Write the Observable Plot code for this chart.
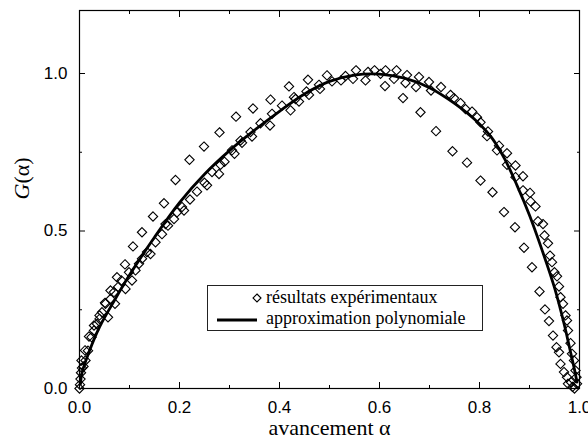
<!DOCTYPE html>
<html><head><meta charset="utf-8">
<script src="https://cdn.jsdelivr.net/npm/d3@7"></script>
<script src="https://cdn.jsdelivr.net/npm/@observablehq/plot@0.6"></script>
<style>
body{margin:0;background:#fff;}
#chart{position:relative;width:588px;height:439px;}
#legend{position:absolute;left:207px;top:285px;}
</style></head><body><div id="chart"></div>
<script>
// Run A (sparse run, peak shifted left)
const runAx = [0.004,0.011,0.019,0.029,0.04,0.051,0.062,0.075,0.091,0.107,0.125,0.147,0.169,0.192,0.22,0.249,0.28,0.313,0.347,0.382,0.419,0.457,0.495,0.553,0.611,0.647,0.682,0.713,0.746,0.775,0.802,0.826,0.849,0.871,0.889,0.905,0.92,0.931,0.939,0.947,0.954,0.959];
const runAy = [0.089,0.121,0.165,0.2,0.232,0.272,0.311,0.353,0.394,0.451,0.496,0.546,0.588,0.662,0.726,0.768,0.813,0.863,0.889,0.917,0.959,0.98,0.994,1.01,0.96,0.922,0.877,0.817,0.753,0.717,0.66,0.623,0.56,0.512,0.447,0.385,0.308,0.251,0.214,0.168,0.131,0.115];
// Run B (main cluster, left part)
const runBx = [0,0.001,0.002,0.003,0.005,0.008,0.012,0.017,0.024,0.029,0.035,0.04,0.045,0.052,0.057,0.062,0.069,0.071,0.077,0.084,0.092,0.099,0.105,0.112,0.119,0.125,0.135,0.142,0.152,0.165,0.172,0.177,0.189,0.195,0.205,0.209,0.221,0.235,0.25,0.255,0.265,0.279,0.282,0.29,0.305,0.31,0.322,0.325,0.342,0.345,0.362,0.381,0.385,0.405,0.422,0.432];
const runBy = [0,0.012,0.03,0.05,0.065,0.07,0.089,0.12,0.163,0.184,0.205,0.221,0.242,0.269,0.226,0.284,0.306,0.269,0.322,0.343,0.316,0.369,0.343,0.375,0.396,0.412,0.433,0.427,0.464,0.49,0.522,0.517,0.538,0.559,0.576,0.565,0.6,0.625,0.653,0.645,0.687,0.681,0.71,0.72,0.756,0.745,0.787,0.78,0.814,0.8,0.842,0.835,0.872,0.898,0.883,0.919];
// Run C (main cluster, right part)
const runCx = [0.429,0.439,0.454,0.459,0.479,0.481,0.505,0.523,0.532,0.547,0.572,0.577,0.59,0.602,0.612,0.629,0.634,0.652,0.655,0.673,0.679,0.699,0.703,0.723,0.742,0.749,0.762,0.772,0.785,0.795,0.802,0.815,0.817,0.835,0.839,0.855,0.855,0.872,0.872,0.887,0.887,0.901,0.902,0.912,0.917,0.927,0.93,0.937,0.941,0.945,0.95,0.955,0.959,0.962,0.967,0.972,0.975,0.977,0.982,0.985,0.989,0.992,0.994,0.995,0.962,0.969,0.975,0.977,0.983,0.99,0.986];
const runCy = [0.925,0.911,0.943,0.932,0.964,0.951,0.975,0.978,0.992,0.983,0.978,1.005,1.01,0.999,1.01,0.983,1.01,0.97,0.995,0.957,0.989,0.973,0.946,0.957,0.932,0.922,0.906,0.887,0.879,0.861,0.845,0.801,0.816,0.756,0.771,0.747,0.71,0.708,0.671,0.674,0.629,0.621,0.594,0.578,0.531,0.522,0.486,0.461,0.422,0.401,0.369,0.356,0.324,0.29,0.269,0.232,0.216,0.184,0.144,0.11,0.089,0.057,0.036,0.015,0.078,0.052,0.036,0.015,0.02,0,0.005];
// Polynomial approximation
const fitX = [0.002,0.005,0.02,0.04,0.07,0.1,0.15,0.2,0.25,0.3,0.35,0.4,0.45,0.5,0.55,0.6,0.65,0.7,0.75,0.8,0.825,0.85,0.875,0.9,0.925,0.95,0.97,0.98,0.99,0.995];
const fitY = [0.015,0.05,0.12,0.195,0.28,0.36,0.48,0.59,0.68,0.755,0.82,0.88,0.935,0.975,0.995,0.998,0.985,0.955,0.905,0.84,0.795,0.73,0.645,0.55,0.44,0.32,0.2,0.13,0.06,0.02];

const xMajor = [0,0.2,0.4,0.6,0.8,1.0];
const xMinor = [0.1,0.3,0.5,0.7,0.9];
const yMajor = [0,0.5,1.0];
const yMinor = [0.25,0.75];
const xLabel = "avancement α";
const yLabel = "G(α)";
const legendLabels = ["résultats expérimentaux","approximation polynomiale"];

const toPts = (xs, ys) => xs.map((x,i) => ({x, y: ys[i]}));
const points = [...toPts(runAx,runAy), ...toPts(runBx,runBy), ...toPts(runCx,runCy)];
const fit = toPts(fitX, fitY);
const serif = "'Liberation Serif','Times New Roman',serif";
const sans = "'Liberation Sans',Arial,Helvetica,sans-serif";
const fmt = d3.format(".1f");

const plot = Plot.plot({
  width: 588, height: 439,
  marginLeft: 79, marginRight: 9, marginTop: 10, marginBottom: 51,
  x: {domain: [0,1]},
  y: {domain: [0,1.2]},
  style: {fontFamily: sans, fontSize: "17px", color: "black", background: "white", overflow: "visible"},
  marks: [
    Plot.dot(points, {x: "x", y: "y", symbol: "diamond2", r: 4.2, stroke: "black", strokeWidth: 1.1}),
    Plot.line(fit, {x: "x", y: "y", stroke: "black", strokeWidth: 2.8, curve: "catmull-rom"}),
    Plot.frame({stroke: "black", strokeWidth: 1.2}),
    Plot.axisX({ticks: xMajor, tickSize: 0, tickPadding: 12, tickFormat: fmt, label: null, fontSize: 17, fontFamily: sans}),
    Plot.axisX({ticks: xMajor, tickSize: -6, fill: "none", label: null}),
    Plot.axisX({ticks: xMinor, tickSize: -3, fill: "none", label: null}),
    Plot.axisX({anchor: "top", ticks: xMajor, tickSize: -6, fill: "none", label: null}),
    Plot.axisX({anchor: "top", ticks: xMinor, tickSize: -3, fill: "none", label: null}),
    Plot.axisY({ticks: yMajor, tickSize: 0, tickPadding: 12, tickFormat: fmt, label: null, fontSize: 17, fontFamily: sans}),
    Plot.axisY({ticks: yMajor, tickSize: -6, fill: "none", label: null}),
    Plot.axisY({ticks: yMinor, tickSize: -3, fill: "none", label: null}),
    Plot.axisY({anchor: "right", ticks: yMajor, tickSize: -6, fill: "none", label: null}),
    Plot.axisY({anchor: "right", ticks: yMinor, tickSize: -3, fill: "none", label: null}),
    Plot.text([xLabel], {frameAnchor: "bottom", dy: 46, lineAnchor: "bottom", fontFamily: serif, fontSize: 22, fill: "black"}),
    Plot.text([yLabel], {frameAnchor: "left", dx: -51, rotate: -90, lineAnchor: "bottom", fontFamily: serif, fontSize: 22, fill: "black"})
  ]
});
document.getElementById("chart").appendChild(plot);

// italic G in the y label
d3.select(plot).selectAll("text").filter(function(){ return this.textContent === yLabel; }).each(function(){
  const t = d3.select(this);
  t.text(null);
  t.append("tspan").attr("font-style","italic").text("G");
  t.append("tspan").text("(α)");
});

// legend box
const lg = d3.select("#chart").append("svg").attr("id","legend").attr("width",277).attr("height",47)
  .style("font-family", serif).style("font-size","18px");
lg.append("rect").attr("x",0.5).attr("y",0.5).attr("width",275).attr("height",45)
  .attr("fill","white").attr("stroke","#222").attr("stroke-width",1);
lg.append("path").attr("d","M50,9L54,13L50,17L46,13Z").attr("fill","none").attr("stroke","black").attr("stroke-width",1.1);
lg.append("line").attr("x1",10).attr("x2",50).attr("y1",35).attr("y2",35).attr("stroke","black").attr("stroke-width",2.8);
lg.selectAll("text.lbl").data(legendLabels).join("text").attr("class","lbl")
  .attr("x",59).attr("y",(d,i)=> i ? 39 : 18).attr("fill","black").text(d=>d);
</script></body></html>
